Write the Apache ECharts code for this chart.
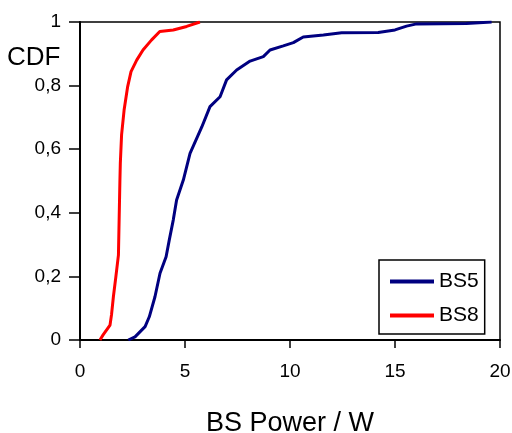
<!DOCTYPE html>
<html>
<head>
<meta charset="utf-8">
<script src="https://cdn.jsdelivr.net/npm/echarts@6/dist/echarts.min.js"></script>
<style>
  html, body { margin: 0; padding: 0; background: #fff; }
  #chart { width: 512px; height: 433px; }
</style>
</head>
<body>
<div id="chart"></div>
<script>
// BS5 CDF (power in W, cumulative fraction)
const bs5Power = [2.3, 2.62, 3.1, 3.3, 3.57, 3.81, 4.1, 4.25, 4.44, 4.6, 4.92, 5.24, 5.8, 6.19, 6.67, 6.98, 7.46, 8.1, 8.73, 9.05, 9.68, 10.16, 10.63, 11.59, 12.46, 14.2, 15.0, 15.55, 16.03, 18.4, 19.6];
const bs5Cdf = [0, 0.01, 0.042, 0.073, 0.136, 0.21, 0.262, 0.314, 0.377, 0.44, 0.503, 0.587, 0.67, 0.734, 0.765, 0.818, 0.849, 0.877, 0.891, 0.912, 0.925, 0.935, 0.953, 0.959, 0.966, 0.967, 0.975, 0.987, 0.994, 0.995, 1.0];
// BS8 CDF
const bs8Power = [0.95, 1.1, 1.43, 1.5, 1.59, 1.71, 1.83, 1.9, 1.92, 1.98, 2.1, 2.27, 2.43, 2.7, 3.0, 3.4, 3.8, 4.44, 5.08, 5.71];
const bs8Cdf = [0, 0.016, 0.047, 0.079, 0.136, 0.2, 0.267, 0.5, 0.556, 0.645, 0.723, 0.797, 0.844, 0.88, 0.912, 0.943, 0.97, 0.975, 0.986, 1.0];

const xTicks = [0, 5, 10, 15, 20];
const yTicks = [0, 0.2, 0.4, 0.6, 0.8, 1];

const font = 'Liberation Sans, Arial, sans-serif';
const pairs = (xs, ys) => xs.map((x, i) => [x, ys[i]]);

const chart = echarts.init(document.getElementById('chart'));
chart.setOption({
    animation: false,
    backgroundColor: '#fff',
    grid: {
        left: 80, right: 12, top: 22, bottom: 93,
        outerBoundsMode: 'none', containLabel: false,
        show: true, borderColor: '#000', borderWidth: 1.5
    },
    graphic: [{
        type: 'text', left: 7, top: 45,
        style: { text: 'CDF', font: '26px ' + font, fill: '#000' }
    }],
    legend: {
        orient: 'vertical',
        left: 379, top: 260,
        padding: [11, 6, 8, 11],
        itemWidth: 44, itemHeight: 4, itemGap: 13, itemTextGap: 2,
        icon: 'rect',
        borderColor: '#000', borderWidth: 1.5,
        textStyle: { fontFamily: font, fontSize: 21, color: '#000' },
        data: ['BS5', 'BS8']
    },
    xAxis: {
        type: 'value', min: xTicks[0], max: xTicks[xTicks.length - 1], interval: 5,
        name: 'BS Power / W', nameLocation: 'middle', nameGap: 70,
        nameTextStyle: { fontFamily: font, fontSize: 27, color: '#000' },
        axisLine: { show: true, lineStyle: { color: '#000', width: 2 } },
        axisTick: { show: true, inside: false, length: 8, lineStyle: { color: '#000', width: 1.5 } },
        axisLabel: { margin: 22, fontFamily: font, fontSize: 19, color: '#000' },
        splitLine: { show: false }
    },
    yAxis: {
        type: 'value', min: yTicks[0], max: yTicks[yTicks.length - 1], interval: 0.2,
        axisLine: { show: true, lineStyle: { color: '#000', width: 2 } },
        axisTick: { show: true, inside: false, length: 11, lineStyle: { color: '#000', width: 1.5 } },
        axisLabel: {
            margin: 19, fontFamily: font, fontSize: 19, color: '#000',
            formatter: v => String(+v.toFixed(1)).replace('.', ',')
        },
        splitLine: { show: false }
    },
    series: [
        {
            name: 'BS5', type: 'line', showSymbol: false, symbol: 'none',
            data: pairs(bs5Power, bs5Cdf),
            lineStyle: { color: '#000080', width: 3 },
            itemStyle: { color: '#000080' }
        },
        {
            name: 'BS8', type: 'line', showSymbol: false, symbol: 'none',
            data: pairs(bs8Power, bs8Cdf),
            lineStyle: { color: '#ff0000', width: 3 },
            itemStyle: { color: '#ff0000' }
        }
    ]
});
</script>
</body>
</html>
